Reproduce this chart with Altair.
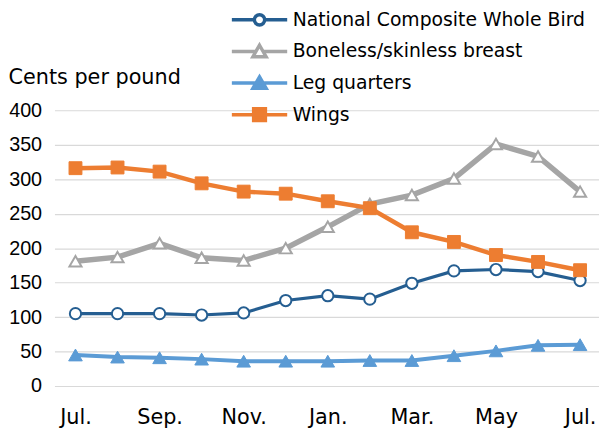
import altair as alt
import pandas as pd

month_labels = ["Jul.", "Aug.", "Sep.", "Oct.", "Nov.", "Dec.", "Jan.",
                "Feb.", "Mar.", "Apr.", "May", "Jun.", "Jul."]

series_names = ["National Composite Whole Bird", "Boneless/skinless breast",
                "Leg quarters", "Wings"]

whole_bird = [105, 105, 105, 103, 106, 124, 131, 126, 149, 167, 169, 166, 153]
breast = [181, 187, 207, 186, 182, 200, 231, 264, 277, 301, 351, 333, 282]
leg_quarters = [45, 42, 41, 39, 36, 36, 36, 37, 37, 44, 51, 59, 60]
wings = [316, 317, 311, 294, 282, 279, 268, 258, 223, 209, 190, 180, 168]

values_by_series = [whole_bird, breast, leg_quarters, wings]

rows = []
for name, vals in zip(series_names, values_by_series):
    for i, v in enumerate(vals):
        rows.append({"series": name, "idx": i, "month": month_labels[i], "value": v})
df = pd.DataFrame(rows)

colors = ["#255E91", "#A5A5A5", "#5B9BD5", "#ED7D31"]
fills = ["white", "white", "#5B9BD5", "#ED7D31"]
line_widths = [3.2, 5.5, 4, 4.5]
shapes = ["circle", "triangle-up", "triangle-up", "square"]
sizes = [130, 150, 190, 170]
point_stroke = [2, 2, 1, 1]

legend_paths = [
    "M-4,0L-0.75,0M0.75,0L4,0M0.75,0A0.75,0.75,0,1,1,-0.75,0A0.75,0.75,0,1,1,0.75,0Z",
    "M-4,0L-0.52,0M0.52,0L4,0M0,-0.9L0.95,0.75L-0.95,0.75Z",
    "M-4,0L4,0M0,-0.9L0.95,0.75L-0.95,0.75Z",
    "M-4,0L4,0M-0.85,-0.85L0.85,-0.85L0.85,0.85L-0.85,0.85Z",
]

FONT = "DejaVu Sans"
label_expr = "[" + ",".join("'%s'" % m for m in month_labels) + "][datum.value]"

x_enc = alt.X(
    "idx:Q",
    scale=alt.Scale(domain=[-0.5, 12.45], nice=False, zero=False),
    axis=alt.Axis(values=list(range(0, 13, 2)), labelExpr=label_expr, title=None,
                  grid=False, domain=False, ticks=False, labelPadding=21,
                  labelFontSize=21, labelFont=FONT, labelColor="#000000",
                  labelBaseline="top"),
)
y_enc = alt.Y(
    "value:Q",
    scale=alt.Scale(domain=[0, 400], nice=False),
    axis=alt.Axis(values=list(range(0, 401, 50)), title="Cents per pound",
                  titleAngle=0, titleX=-47, titleY=-33, titleAlign="left",
                  titleBaseline="middle", titleFontSize=21, titleFont=FONT,
                  titleFontWeight="normal", titleColor="#000000",
                  grid=True, gridColor="#D9D9D9", gridWidth=1.2,
                  domain=False, ticks=False, labelPadding=13,
                  labelFontSize=20, labelFont="Liberation Sans", labelColor="#000000"),
)

base = alt.Chart(df)
layers = []
for k, name in enumerate(series_names):
    sub = base.transform_filter(alt.datum.series == name)
    layers.append(sub.mark_line(color=colors[k], strokeWidth=line_widths[k]).encode(x=x_enc, y=y_enc))
    layers.append(sub.mark_point(shape=shapes[k], size=sizes[k], fill=fills[k], stroke=colors[k],
                                 strokeWidth=point_stroke[k], filled=True, opacity=1)
                  .encode(x=x_enc, y=y_enc))

legend_layer = base.transform_filter("false").mark_point(filled=True, opacity=1).encode(
    shape=alt.Shape("series:N", scale=alt.Scale(domain=series_names, range=legend_paths), legend=alt.Legend(title=None)),
    stroke=alt.Stroke("series:N", scale=alt.Scale(domain=series_names, range=colors), legend=alt.Legend(title=None)),
    fill=alt.Fill("series:N", scale=alt.Scale(domain=series_names, range=fills), legend=alt.Legend(title=None)),
)

chart = alt.layer(*layers, legend_layer).properties(
    width=551, height=279,
    autosize=alt.AutoSizeParams(type="none"),
    padding={"left": 47, "top": 101, "right": 0, "bottom": 40},
    background="white",
).configure_view(stroke=None).configure_legend(
    orient="none", legendX=198, legendY=-101, symbolSize=196, symbolStrokeWidth=3.5,
    labelFontSize=19, labelFont=FONT, labelColor="#000000", labelOffset=24,
    rowPadding=6, padding=0, labelLimit=400, titlePadding=0,
)

chart.save("out.html", embed_options={"renderer": "svg", "actions": False})
